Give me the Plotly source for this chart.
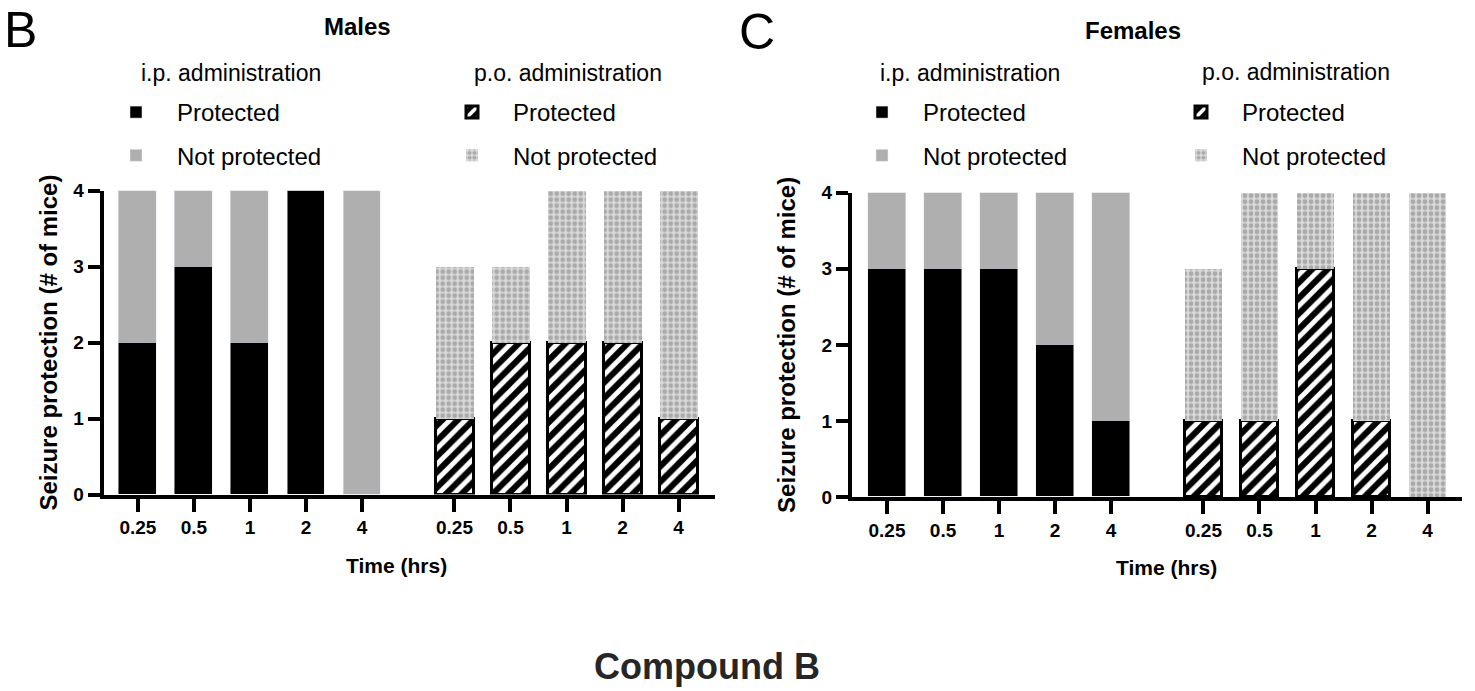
import plotly.graph_objects as go

# ---------------- data ----------------
times = ["0.25", "0.5", "1", "2", "4"]

male_ip_protected = [2, 3, 2, 4, 0]
male_ip_total = [4, 4, 4, 4, 4]
male_po_protected = [1, 2, 2, 2, 1]
male_po_total = [3, 3, 4, 4, 4]

female_ip_protected = [3, 3, 3, 2, 1]
female_ip_total = [4, 4, 4, 4, 4]
female_po_protected = [1, 1, 3, 1, 0]
female_po_total = [3, 4, 4, 4, 4]

# ---------------- layout helpers ----------------
W, H = 1475, 691
FONT = "Liberation Sans, Arial, Helvetica, sans-serif"
GROUP_GAP = 0.65
ip_pos = [i for i in range(len(times))]
po_pos = [i + len(times) + GROUP_GAP for i in range(len(times))]
tick_vals = ip_pos + po_pos
tick_text = times + times

def px_x(p):
    return p / W

def px_y(p):
    return 1 - p / H

BAR_W = 0.67
GRAY = "#afafaf"
solid_black = dict(color="black")
solid_gray = dict(color=GRAY)
hatched = dict(color="black",
               pattern=dict(shape="/", bgcolor="black", fgcolor="#ffffff",
                            fgopacity=1, fillmode="replace",
                            size=11, solidity=0.45),
               line=dict(color="black", width=3))
checker = dict(color="#c4c4c4",
               pattern=dict(shape=".", bgcolor="#dadada", fgcolor="#aaaaaa",
                            fgopacity=1, size=6, solidity=0.5),
               line=dict(width=0))

def minus(a, b):
    return [x - y for x, y in zip(a, b)]

fig = go.Figure()

panels = [
    ("x", "y", male_ip_protected, male_ip_total, male_po_protected, male_po_total, "legend", "legend2"),
    ("x2", "y2", female_ip_protected, female_ip_total, female_po_protected, female_po_total, "legend3", "legend4"),
]

for xa, ya, ipp, ipt, pop, pot, lg_ip, lg_po in panels:
    fig.add_trace(go.Bar(x=ip_pos, y=ipp, width=BAR_W, marker=solid_black,
                         name="Protected", legend=lg_ip, legendgroup=lg_ip + "a",
                         xaxis=xa, yaxis=ya))
    fig.add_trace(go.Bar(x=ip_pos, y=minus(ipt, ipp), width=BAR_W, marker=solid_gray,
                         name="Not protected", legend=lg_ip, legendgroup=lg_ip + "b",
                         xaxis=xa, yaxis=ya))
    fig.add_trace(go.Bar(x=po_pos, y=pop, width=BAR_W, marker=hatched,
                         name="Protected", legend=lg_po, legendgroup=lg_po + "a",
                         xaxis=xa, yaxis=ya))
    fig.add_trace(go.Bar(x=po_pos, y=minus(pot, pop), width=BAR_W, marker=checker,
                         name="Not protected", legend=lg_po, legendgroup=lg_po + "b",
                         xaxis=xa, yaxis=ya))

axis_common = dict(showline=True, linewidth=4, linecolor="black", ticks="outside",
                   tickwidth=4, tickcolor="black", showgrid=False, zeroline=False,
                   automargin=False, fixedrange=True,
                   tickfont=dict(family=FONT, size=19, color="black", weight="bold"))

xcommon = dict(axis_common, tickvals=tick_vals, ticktext=tick_text, ticklen=13)
ytitle_font = dict(family=FONT, size=24, color="black", weight="bold")
ycommon = dict(axis_common, range=[0, 4], tickvals=[0, 1, 2, 3, 4], ticklen=12)

legend_common = dict(font=dict(family=FONT, size=24, color="black"),
                     bgcolor="rgba(0,0,0,0)", borderwidth=0, tracegroupgap=9,
                     xanchor="left", yanchor="top", itemwidth=72, orientation="v")

def legend_at(x, y):
    d = dict(legend_common)
    d.update(x=px_x(x), y=px_y(y))
    return d

def note(text, x, y, size, bold=False, color="black"):
    f = dict(family=FONT, size=size, color=color)
    if bold:
        f["weight"] = "bold"
    return dict(text=text, x=px_x(x), y=px_y(y), xref="paper", yref="paper",
                xanchor="center", yanchor="middle", showarrow=False, font=f)

fig.update_layout(
    width=W, height=H,
    margin=dict(l=0, r=0, t=0, b=0),
    paper_bgcolor="white", plot_bgcolor="white",
    barmode="stack", bargap=0,
    xaxis=dict(xcommon, domain=[px_x(103.7), px_x(715)], range=[-0.61, 10.30], anchor="y"),
    yaxis=dict(ycommon, domain=[px_y(494.5), px_y(190.7)], anchor="x",
               title=dict(text="Seizure protection (# of mice)", standoff=10, font=ytitle_font)),
    xaxis2=dict(xcommon, domain=[px_x(852), px_x(1461.7)], range=[-0.625, 10.26], anchor="y2"),
    yaxis2=dict(ycommon, domain=[px_y(497), px_y(192.7)], anchor="x2",
                title=dict(text="Seizure protection (# of mice)", standoff=20, font=ytitle_font)),
    legend=legend_at(95, 90),
    legend2=legend_at(431, 90),
    legend3=legend_at(841, 90),
    legend4=legend_at(1160, 90),
    showlegend=True,
    annotations=[
        note("B", 20, 30, 50),
        note("C", 757, 32, 50),
        note("Males", 357, 27, 24, bold=True),
        note("Females", 1133, 30, 24, bold=True),
        note("i.p. administration", 231, 73, 23),
        note("p.o. administration", 568, 73, 23),
        note("i.p. administration", 970, 73, 23),
        note("p.o. administration", 1296, 72, 23),
        note("Time (hrs)", 396, 565, 21, bold=True),
        note("Time (hrs)", 1166, 567, 21, bold=True),
        note("Compound B", 707, 666, 36, bold=True, color="#262626"),
    ],
)

fig.write_html("out.html", config={"displayModeBar": False},
               post_script="document.body.style.margin='0px';")
